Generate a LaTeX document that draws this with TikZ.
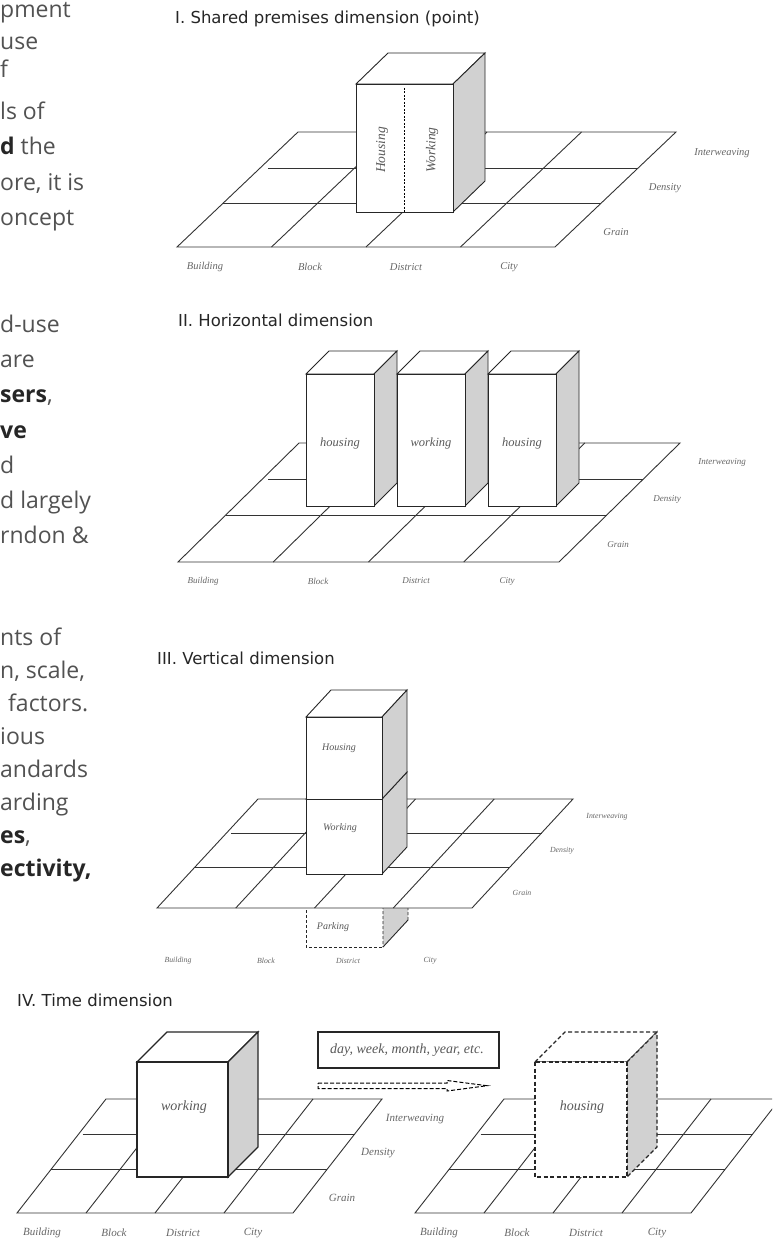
\documentclass[tikz,border=0pt]{standalone}
\usepackage{fontspec}
\setmainfont{Liberation Serif}
\newfontfamily\bodyfont{Open Sans}
\newfontfamily\headfont{DejaVu Sans}

% ground plane: #1 x0, #2 front y, #3 back y, #4 width, #5 slant dx,
% #6 upper row y, #7 lower row y, #8 inset of the upper row line
\newcommand\groundgrid[8]{%
  \fill[white] (#1,#2) -- ++(#4,0) -- ++(#5,{#3-#2}) -- ++(-#4,0) -- cycle;
  \draw[gridline] (#1,#2) -- ++(#4,0) -- ++(#5,{#3-#2}) -- ++(-#4,0) -- cycle;
  \foreach \k in {1,2,3}{\draw[gridline] ({#1+\k*#4/4},#2) -- ++(#5,{#3-#2});}
  \draw[gridline] ({#1+#5*(#2-#6)/(#2-#3)+#8},#6) -- ({#1+#5*(#2-#6)/(#2-#3)+#4},#6);
  \draw[gridline] ({#1+#5*(#2-#7)/(#2-#3)},#7) -- ({#1+#5*(#2-#7)/(#2-#3)+#4},#7);
}

% block: #1 x, #2 top y, #3 width, #4 height, #5 depth dx, #6 depth dy, #7 extra style
\newcommand\blockbox[7]{%
  \path[boxline,#7,fill=white] (#1,#2) -- ++(#5,-#6) -- ++(#3,0) -- ++(-#5,#6) -- cycle;
  \path[boxline,#7,sidefill] (#1+#3,#2) -- ++(#5,-#6) -- ++(0,#4) -- ++(-#5,#6) -- cycle;
  \path[boxline,#7,fill=white] (#1,#2) rectangle ++(#3,#4);
}

\begin{document}
\begin{tikzpicture}[x=1pt,y=-1pt,
  gridline/.style={line width=0.9pt, draw=black!80},
  boxline/.style={line width=0.9pt, draw=black!85},
  sidefill/.style={fill=black!18},
  dashbox/.style={dash pattern=on 3pt off 2pt},
  bodytxt/.style={anchor=base west, inner sep=0pt, text=black!68,
    font=\bodyfont\fontsize{23}{28}\selectfont},
  paneltitle/.style={anchor=west, inner sep=0pt, text=black!85,
    font=\headfont\fontsize{16.5}{19}\selectfont},
  lblA/.style={inner sep=0pt, text=black!60, font=\itshape\fontsize{10.5}{12}\selectfont},
  lblB/.style={inner sep=0pt, text=black!60, font=\itshape\fontsize{9}{10}\selectfont},
  lblC/.style={inner sep=0pt, text=black!60, font=\itshape\fontsize{7.8}{9}\selectfont},
  lblD/.style={inner sep=0pt, text=black!60, font=\itshape\fontsize{11}{13}\selectfont},
  usetxt/.style={inner sep=0pt, text=black!65, font=\itshape\fontsize{#1}{#1}\selectfont},
]
\fill[white] (0,0) rectangle (772,1241);
\useasboundingbox (0,0) rectangle (772,1241);
\clip (0,0) rectangle (772,1241);

% ---------- running text column ----------
\node[bodytxt] (t1) at (0,18) {pment};
\node[bodytxt] (t2) at (0,50) {use};
\node[bodytxt] (t3) at (0,78) {f};
\node[bodytxt] (t4) at (0,120) {ls of};
\node[bodytxt] (t5) at (0,155) {\textbf{\color{black!85}d} the};
\node[bodytxt] (t6) at (0,191) {ore, it is};
\node[bodytxt] (t7) at (0,226) {oncept};

\node[bodytxt] (u1) at (0,332) {d-use};
\node[bodytxt] (u2) at (0,367) {are};
\node[bodytxt] (u3) at (0,402) {\textbf{\color{black!85}sers},};
\node[bodytxt] (u4) at (0,438) {\textbf{\color{black!85}ve}};
\node[bodytxt] (u5) at (0,473) {d};
\node[bodytxt] (u6) at (0,508) {d largely};
\node[bodytxt] (u7) at (0,543) {rndon \&};

\node[bodytxt] (v1) at (0,645) {nts of};
\node[bodytxt] (v2) at (0,678) {n, scale,};
\node[bodytxt] (v3) at (8,711) {factors.};
\node[bodytxt] (v4) at (0,744) {ious};
\node[bodytxt] (v5) at (0,777) {andards};
\node[bodytxt] (v6) at (0,810) {arding};
\node[bodytxt] (v7) at (0,843) {\textbf{\color{black!85}es},};
\node[bodytxt] (v8) at (0,876) {\textbf{\color{black!85}ectivity,}};

% ---------- I. shared premises ----------
\node[paneltitle] (titleI) at (175,19) {I. Shared premises dimension (point)};
\groundgrid{177}{247}{132}{378}{121}{168}{203}{8}
\blockbox{356}{84}{97}{128}{32}{31}{}
\draw[line width=0.8pt, dash pattern=on 2pt off 1.5pt] (404.5,88) -- (404.5,212);
\node[usetxt=13.5, rotate=90] (hI) at (382,150) {Housing};
\node[usetxt=13.5, rotate=90] (wI) at (432,150) {Working};
\node[lblA] (bI) at (205,267) {Building};
\node[lblA] (kI) at (310,267) {Block};
\node[lblA] (dI) at (406,267) {District};
\node[lblA] (cI) at (509,267) {City};
\node[lblA] (iI) at (722,153) {Interweaving};
\node[lblA] (nI) at (665,188) {Density};
\node[lblA] (gI) at (616,232) {Grain};

% ---------- II. horizontal ----------
\node[paneltitle] (titleII) at (178,320) {II. Horizontal dimension};
\groundgrid{178}{562}{443}{381}{121}{479}{515}{6}
\blockbox{306}{374}{68}{132}{23}{23}{}
\blockbox{397}{374}{68}{132}{23}{23}{}
\blockbox{488}{374}{68}{132}{23}{23}{}
\node[usetxt=12.5] (hII) at (340,443) {housing};
\node[usetxt=12.5] (wII) at (431,443) {working};
\node[usetxt=12.5] (h2II) at (522,443) {housing};
\node[lblB] (bII) at (203,581) {Building};
\node[lblB] (kII) at (318,581) {Block};
\node[lblB] (dII) at (416,581) {District};
\node[lblB] (cII) at (507,581) {City};
\node[lblB] (iII) at (722,462) {Interweaving};
\node[lblB] (nII) at (667,499) {Density};
\node[lblB] (gII) at (618,545) {Grain};

% ---------- III. vertical ----------
\node[paneltitle] (titleIII) at (157,658) {III. Vertical dimension};
% underground parking, partly hidden by the ground plane
\path[boxline,dashbox,fill=white] (306,880) rectangle (383,947);
\path[boxline,dashbox,sidefill] (408,920) -- (408,853) -- (383,880) -- (383,947);
\draw[boxline] (383,947) -- (408,920);
\groundgrid{157}{908}{799}{315}{101}{833}{867}{5}
\blockbox{306}{799}{76}{75}{25}{27}{}
\blockbox{306}{717}{76}{82}{25}{27}{}
\node[usetxt=10] (hIII) at (339,748) {Housing};
\node[usetxt=10] (wIII) at (340,828) {Working};
\node[usetxt=10] (pIII) at (333,927) {Parking};
\node[lblC] (bIII) at (178,961) {Building};
\node[lblC] (kIII) at (266,961) {Block};
\node[lblC] (dIII) at (348,961) {District};
\node[lblC] (cIII) at (430,961) {City};
\node[lblC] (iIII) at (607,817) {Interweaving};
\node[lblC] (nIII) at (562,851) {Density};
\node[lblC] (gIII) at (522,893) {Grain};

% ---------- IV. time ----------
\node[paneltitle] (titleIV) at (17,1000) {IV. Time dimension};
\groundgrid{17}{1213}{1099}{276}{89}{1134}{1169}{4}
\blockbox{137}{1062}{91}{115}{30}{30}{line width=1.2pt}
\node[usetxt=14] (wIV) at (184,1107) {working};
\node[lblD] (bIV) at (42,1233) {Building};
\node[lblD] (kIV) at (114,1233) {Block};
\node[lblD] (dIV) at (183,1233) {District};
\node[lblD] (cIV) at (253,1233) {City};
\node[lblD] (iIV) at (415,1119) {Interweaving};
\node[lblD] (nIV) at (378,1153) {Density};
\node[lblD] (gIV) at (342,1198) {Grain};

\draw[line width=1.1pt, draw=black!85] (318,1032) rectangle (499,1068);
\node[usetxt=14] (period) at (407,1050) {day, week, month, year, etc.};
\draw[line width=1pt, dash pattern=on 4pt off 2pt]
  (318,1083) -- (447,1083) -- (447,1080.5) -- (487,1085.7)
  -- (447,1091) -- (447,1088.5) -- (318,1088.5) -- cycle;

\groundgrid{415}{1213}{1099}{276}{89}{1134}{1169}{4}
\blockbox{535}{1062}{92}{115}{30}{30}{line width=1.2pt,dash pattern=on 4pt off 2.5pt}
\node[usetxt=14] (hIV) at (582,1107) {housing};
\node[lblD] (bIVr) at (439,1233) {Building};
\node[lblD] (kIVr) at (517,1233) {Block};
\node[lblD] (dIVr) at (586,1233) {District};
\node[lblD] (cIVr) at (657,1233) {City};
\end{tikzpicture}
\end{document}
